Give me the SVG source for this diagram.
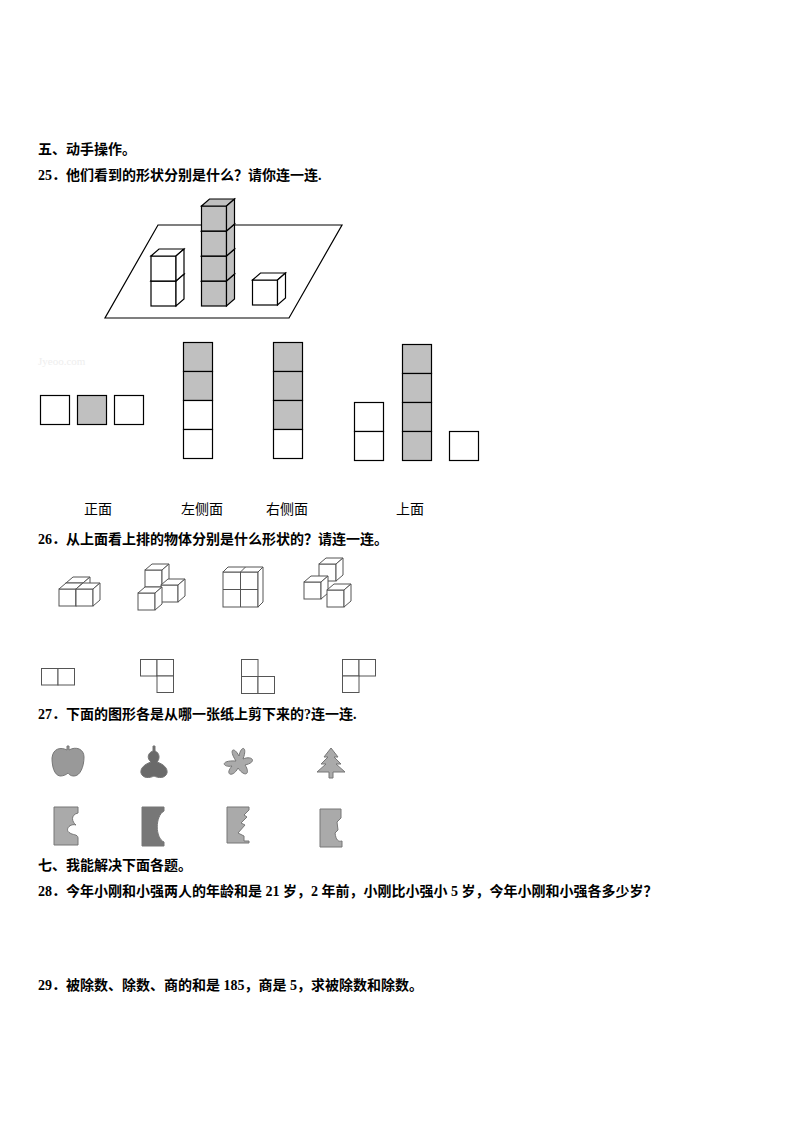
<svg xmlns="http://www.w3.org/2000/svg" width="794" height="1123" viewBox="0 0 794 1123">
<style>
.t{font-family:"Liberation Serif","Noto Sans CJK SC",serif;font-size:14px;font-weight:bold;fill:#000}
.l{font-family:"Noto Sans CJK SC",sans-serif;font-size:14px;fill:#000;text-anchor:middle}
.w{fill:#fff;stroke:#000;stroke-width:1.2}
.g{fill:#c0c0c0;stroke:#000;stroke-width:1.2}
.s{fill:#fff;stroke:#555;stroke-width:1}
.p{fill:#999;stroke:#777;stroke-width:1}
</style>
<defs>
<g id="cw"><rect class="w" x="0" y="0" width="25" height="25"/><polygon class="w" points="0,0 8,-7 33,-7 25,0"/><polygon class="w" points="25,0 33,-7 33,18 25,25"/></g>
<g id="cg"><rect class="g" x="0" y="0" width="25" height="25"/><polygon class="g" points="0,0 8,-7 33,-7 25,0"/><polygon class="g" points="25,0 33,-7 33,18 25,25"/></g>
<g id="c"><rect class="s" x="0" y="0" width="17" height="17"/><polygon class="s" points="0,0 7,-6 24,-6 17,0"/><polygon class="s" points="17,0 24,-6 24,11 17,17"/></g>
</defs>
<g id="headings">
<text class="t" x="38" y="154">五、动手操作。</text>
<text class="t" x="38" y="180">25．他们看到的形状分别是什么？请你连一连.</text>
<text class="t" x="38" y="544">26．从上面看上排的物体分别是什么形状的？请连一连。</text>
<text class="t" x="38" y="719">27．下面的图形各是从哪一张纸上剪下来的?连一连.</text>
<text class="t" x="38" y="870">七、我能解决下面各题。</text>
<text class="t" x="38" y="896">28．今年小刚和小强两人的年龄和是 21 岁，2 年前，小刚比小强小 5 岁，今年小刚和小强各多少岁？</text>
<text class="t" x="38" y="990">29．被除数、除数、商的和是 185，商是 5，求被除数和除数。</text>
</g>
<g id="scene25">
<polygon points="158,225 342,225 289,318 105,318" fill="none" stroke="#000" stroke-width="1.2"/>
<use href="#cw" x="151" y="281"/><use href="#cw" x="151" y="256"/>
<use href="#cg" x="201.5" y="281"/><use href="#cg" x="201.5" y="256"/><use href="#cg" x="201.5" y="231"/><use href="#cg" x="201.5" y="206"/>
<use href="#cw" x="252.5" y="280"/>
<text x="38" y="365" font-family="Liberation Serif,serif" font-size="11" fill="#eee">Jyeoo.com</text>
</g>
<g id="views">
<rect class="w" x="40.5" y="395.5" width="29" height="29"/><rect class="g" x="77.5" y="395.5" width="29" height="29"/><rect class="w" x="114.5" y="395.5" width="29" height="29"/>
<rect class="g" x="183.5" y="342.5" width="29" height="29"/><rect class="g" x="183.5" y="371.5" width="29" height="29"/><rect class="w" x="183.5" y="400.5" width="29" height="29"/><rect class="w" x="183.5" y="429.5" width="29" height="29"/>
<rect class="g" x="273.5" y="342.5" width="29" height="29"/><rect class="g" x="273.5" y="371.5" width="29" height="29"/><rect class="g" x="273.5" y="400.5" width="29" height="29"/><rect class="w" x="273.5" y="429.5" width="29" height="29"/>
<rect class="w" x="354.5" y="402.5" width="29" height="29"/><rect class="w" x="354.5" y="431.5" width="29" height="29"/>
<rect class="g" x="402.5" y="344.5" width="29" height="29"/><rect class="g" x="402.5" y="373.5" width="29" height="29"/><rect class="g" x="402.5" y="402.5" width="29" height="29"/><rect class="g" x="402.5" y="431.5" width="29" height="29"/>
<rect class="w" x="449.5" y="431.5" width="29" height="29"/>
<text class="l" x="98" y="514">正面</text><text class="l" x="202" y="514">左侧面</text><text class="l" x="287" y="514">右侧面</text><text class="l" x="410" y="514">上面</text>
</g>
<g id="scene26">
<use href="#c" x="66" y="583"/><use href="#c" x="59" y="589"/><use href="#c" x="76" y="589"/>
<use href="#c" x="145" y="570"/><use href="#c" x="161" y="585"/><use href="#c" x="138" y="593"/>
<rect class="s" x="223" y="572" width="35" height="35"/><line x1="240.5" y1="572" x2="240.5" y2="607" stroke="#555"/><line x1="223" y1="589.5" x2="258" y2="589.5" stroke="#555"/><polygon class="s" points="223,572 228,567 263,567 258,572"/><polygon class="s" points="258,572 263,567 263,602 258,607"/><line x1="240.5" y1="572" x2="245.5" y2="567" stroke="#555"/>
<use href="#c" x="319" y="564"/><use href="#c" x="304" y="582"/><use href="#c" x="327" y="590"/>
<rect class="s" x="41.5" y="668.5" width="16.5" height="16.5"/><rect class="s" x="58" y="668.5" width="16.5" height="16.5"/>
<rect class="s" x="140.5" y="659.5" width="16.5" height="16.5"/><rect class="s" x="157" y="659.5" width="16.5" height="16.5"/><rect class="s" x="157" y="676" width="16.5" height="16.5"/>
<rect class="s" x="241.5" y="659.5" width="16.5" height="17"/><rect class="s" x="241.5" y="676.5" width="16.5" height="17"/><rect class="s" x="258" y="676.5" width="16.5" height="17"/>
<rect class="s" x="342.5" y="659.5" width="16.5" height="16.5"/><rect class="s" x="359" y="659.5" width="16.5" height="16.5"/><rect class="s" x="342.5" y="676" width="16.5" height="16.5"/>
</g>
<g id="scene27">
<path class="p" d="M67,750 L67,746 L69,746 L69,750 C76,746 84,749 84,757 C84,767 80,776 74,776 C70,776 69,774 68,773 C66,775 63,776 60,776 C54,775 52,766 52,758 C53,748 61,747 67,750Z"/>
<path class="p" d="M153,746 L155,746 L155,751 C160,753 160,759 157,762 C163,764 168,768 167,773 C165,779 158,778 154,776 C150,778 143,779 141,773 C140,768 145,764 151,762 C147,759 147,753 153,751Z" style="fill:#6a6a6a"/>
<path class="p" d="M236,761 C228,749 234,746 239,756 C241,745 248,746 243,759 C252,755 258,762 245,765 C251,774 245,778 238,768 C233,778 224,775 232,766 C223,768 219,760 236,761Z" style="fill:#aaa"/>
<path class="p" d="M331,748 L338,757 L334,757 L341,764 L336,764 L345,772 L333,772 L333,778 L329,778 L329,772 L317,772 L326,764 L321,764 L328,757 L324,757Z" style="fill:#aaa"/>
<path class="p" d="M54,807 L78,807 L78,813 C70,815 72,822 76,825 C70,823 64,830 70,833 C72,835 78,834 78,838 L78,845 L54,845Z" style="fill:#aaa"/>
<path class="p" d="M142,807 L164,807 L164,811 C155,816 155,838 164,842 L164,846 L142,846Z" style="fill:#777"/>
<path class="p" d="M227,807 L249,807 L249,810 L244,815 L247,817 L241,823 L245,825 L238,833 L244,836 L244,841 L249,841 L249,843 L227,843Z" style="fill:#aaa"/>
<path class="p" d="M320,809 L341,809 L341,818 L337,822 L338,830 L335,833 C336,840 338,842 342,841 L342,847 L320,847Z" style="fill:#aaa"/>
</g>
</svg>
